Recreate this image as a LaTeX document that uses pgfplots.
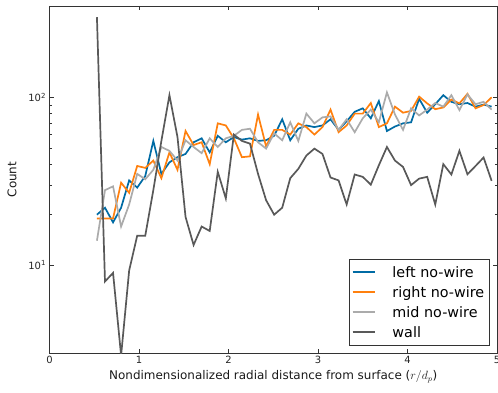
\documentclass[border=0pt]{standalone}
\usepackage{pgfplots}
\pgfplotsset{compat=1.18}
\usepackage{pgfplotstable}
\usepackage{fontspec}
\setmainfont{DejaVu Sans}
\usetikzlibrary{calc}
\definecolor{cbblue}{RGB}{0,107,164}
\definecolor{cborange}{RGB}{255,128,14}
\definecolor{cbgray}{RGB}{171,171,171}
\definecolor{cbdark}{RGB}{89,89,89}

\pgfplotstableread{
x left right mid wall
0.53 20 19 14 300
0.62 22 19 28 8
0.71 18 19 29.5 9
0.80 22 31 17 2.9
0.89 32 27 23 9.3
0.98 29 39 35 15
1.07 34 38 32.5 15
1.16 55 42 37 28
1.25 35 33 50.6 55
1.34 41 47 48 103
1.43 44 37 42 58
1.52 46 63 55.5 19.4
1.61 54 52 50.6 13.2
1.70 57 54 46.5 17
1.79 47 40 57 16
1.88 59 70 50.6 36
1.97 54 68 57 25
2.06 58 57 59 60
2.15 56 44 64 55
2.24 57 44.5 65 53
2.33 55 79 54 35
2.42 55.5 51 49.5 24.4
2.51 59 64 61 20
2.60 74 64 55.5 22
2.69 55.5 60 71 33
2.78 65 70 55 37.5
2.87 68 66.5 80 45
2.96 66.5 60 70 49.5
3.05 68 66.5 76 46
3.14 74 84.5 77 33.3
3.23 64 62 64 32
3.32 72 68 74 23
3.41 82 80 62 34.7
3.50 86 80 75 33.6
3.59 75 92.5 84.5 30.2
3.68 95 66.5 71 39.4
3.77 63 70 107 50.6
3.86 67 88 79 42
3.95 70 81 64 38.5
4.04 71 83 86 30
4.13 98 101 78 32.8
4.22 81 92 84.5 33.6
4.31 91 85 92.5 23
4.40 103 87 88 40
4.49 94 97 103 34.7
4.58 91 92 84 48
4.67 92.5 105 104 34.8
4.76 88 86 91 39
4.85 90.5 90 94 43.8
4.94 88 100 84.5 31.8
}\data

\newcommand{\legline}[1]{\node[inner sep=0pt, anchor=west] at (10bp,0bp) {\textcolor{#1}{\rule[-0.9bp]{22bp}{1.8bp}}};}

\begin{document}
\begin{tikzpicture}
\begin{axis}[
  scale only axis, width=447.5bp, height=347bp,
  xmin=0, xmax=5, ymin=3, ymax=350, ymode=log,
  xtick={0,1,2,3,4,5}, xticklabels={0,1,2,3,4,5},
  ytick={10,100}, yticklabels={10\textsuperscript{1},10\textsuperscript{2}},
  tick align=inside, tick pos=both,
  major tick length=4.5bp, minor tick length=2.5bp,
  axis line style={black!80, line width=0.9bp},
  major tick style={black!80, line width=0.6bp},
  minor tick style={black!80, line width=0.6bp},
  tick label style={font=\fontsize{10}{12}\selectfont, text=black!85},
  label style={font=\fontsize{12}{14}\selectfont, text=black!90},
  xlabel={Nondimensionalized radial distance from surface ($r/d_p$)},
  ylabel={Count},
  ylabel style={yshift=5bp},
  legend style={at={(0.983,0.021)}, anchor=south east, draw=black!80,
    font=\fontsize{14.4}{17}\selectfont, row sep=3.5bp, inner xsep=3bp, inner ysep=5bp,
    /tikz/every odd column/.append style={column sep=16bp}},
  legend cell align=left,
  clip=true,
]
\addplot[cbblue, line width=1.7bp, legend image code/.code={\legline{cbblue}}] table[x=x,y=left] {\data};
\addlegendentry{left no-wire}
\addplot[cborange, line width=1.7bp, legend image code/.code={\legline{cborange}}] table[x=x,y=right] {\data};
\addlegendentry{right no-wire}
\addplot[cbgray, line width=1.7bp, legend image code/.code={\legline{cbgray}}] table[x=x,y=mid] {\data};
\addlegendentry{mid no-wire}
\addplot[cbdark, line width=1.7bp, legend image code/.code={\legline{cbdark}}] table[x=x,y=wall] {\data};
\addlegendentry{wall}
\coordinate (sw) at (rel axis cs:0,0);
\coordinate (ne) at (rel axis cs:1,1);
\end{axis}
\pgfresetboundingbox
\path[use as bounding box] ($(sw)+(-49.5bp,-39bp)$) rectangle ($(ne)+(1bp,6bp)$);
\end{tikzpicture}
\end{document}
